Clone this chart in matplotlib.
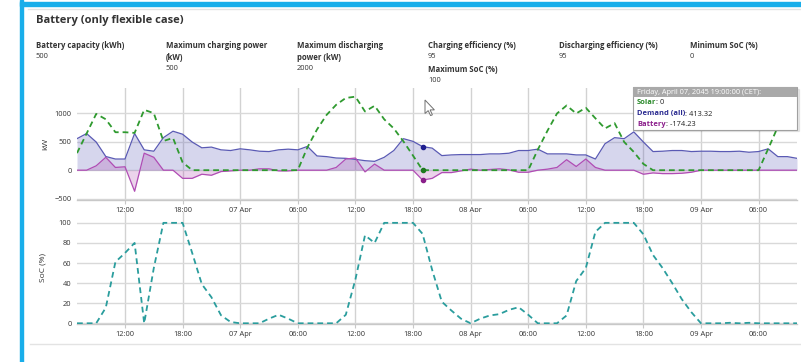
import matplotlib
matplotlib.use("Agg")
import matplotlib.pyplot as plt
import matplotlib.dates as mdates
import matplotlib.patches as mpatches
import numpy as np
import pandas as pd

# ---------------- data ----------------
times = pd.date_range("2045-04-06 07:00", "2045-04-09 10:00", freq="h")

solar = [300, 643, 988, 893, 666, 666, 654, 1059, 1000, 512, 565, 137,
         0, 0, 0, 0, 0, 0, 0, 0, 0, 0, 0, 0,
         400, 714, 970, 1148, 1267, 1290, 1030, 1130, 893, 732, 506, 256,
         0, 0, 0, 0, 0, 0, 0, 0, 0, 0, 0, 0,
         360, 690, 995, 1135, 995, 1095, 910, 732, 825, 494, 320, 110,
         0, 0, 0, 0, 0, 0, 0, 0, 0, 0, 0, 0,
         375, 760, 1100, 1380]

demand = [553, 643, 494, 240, 196, 196, 643, 357, 333, 571, 684, 631,
          494, 393, 405, 357, 345, 375, 357, 333, 327, 357, 369, 357,
          417, 250, 238, 214, 208, 190, 167, 155, 226, 345, 553, 506,
          413.32, 387, 256, 268, 274, 274, 274, 286, 286, 298, 345, 345,
          369, 286, 286, 286, 268, 268, 196, 464, 571, 553, 672, 494,
          327, 333, 345, 345, 327, 333, 333, 327, 327, 333, 315, 327,
          375, 238, 238, 208]

battery = [0, 0, 77, 226, 48, 60, -370, 298, 226, 0, 0, -143,
           -143, -71, -89, -24, -12, 0, 0, 24, 24, -12, -12, 0,
           0, 0, 0, 48, 196, 214, -30, 107, 0, 0, 0, 0,
           -174.23, -143, -42, -42, -12, 18, 0, 12, 24, 6, -36, -36,
           0, 18, 48, 184, 65, 196, 48, 0, 0, 0, 0, -71,
           -48, -60, -60, -54, -36, 0, 0, 0, 0, 0, 0, 0,
           0, 0, 0, 0]

soc = [0, 0, 0, 15.6, 61, 70, 80, 0, 55, 100, 100, 100,
       70, 39, 26, 8, 1.3, 0, 0, 0, 4.6, 8.5, 4.6, 0,
       0, 0, 0, 0, 8.5, 43.6, 87.6, 80, 100, 100, 100, 100,
       89, 53, 21.5, 12.7, 4.6, 0, 4.6, 7.8, 9.1, 13.4, 16, 8.5,
       0, 0, 0, 7.8, 42, 55, 91, 100, 100, 100, 100, 88.6,
       68, 55, 40, 24, 11, 0, 0, 0, 0.5, 0, 0.5, 0,
       0, 0, 0, 0]

params = [("Battery capacity (kWh)", "500"),
          ("Maximum charging power\n(kW)", "500"),
          ("Maximum discharging\npower (kW)", "2000"),
          ("Charging efficiency (%)", "95"),
          ("Discharging efficiency (%)", "95"),
          ("Minimum SoC (%)", "0")]
extra_param = ("Maximum SoC (%)", "100")

tooltip_title = "Friday, April 07, 2045 19:00:00 (CET):"
tooltip_rows = [("Solar", "0"), ("Demand (all)", "413.32"), ("Battery", "-174.23")]
hover_index = 36

# ---------------- style ----------------
W, H = 801, 362
plt.rcParams['font.family'] = ['Open Sans', 'DejaVu Sans']
C_SOLAR = '#2f9a2f'
C_DEMAND = '#5a5ab4'
C_BATT = '#b04cb4'
C_SOC = '#2a9d9d'
GRID = '#d9d9d9'
TXT = '#333333'

fig = plt.figure(figsize=(W / 100, H / 100), dpi=100)
fig.patch.set_facecolor('white')


def fx(x):
    return x / W


def fy(y):
    return 1 - y / H


def axes_px(l, t, r, b):
    return fig.add_axes([fx(l), fy(b), (r - l) / W, (b - t) / H])


# panel decorations
fig.patches.append(mpatches.Rectangle((fx(20), 0), 3 / W, 1, transform=fig.transFigure,
                                      color='#19aeea', zorder=0))
fig.patches.append(mpatches.Rectangle((fx(20), fy(6)), 1, 4 / H, transform=fig.transFigure,
                                      color='#19aeea', zorder=0))
fig.lines.append(plt.Line2D([fx(28), 1], [fy(8.5), fy(8.5)], transform=fig.transFigure,
                            color='#e3e3e3', lw=1))
fig.lines.append(plt.Line2D([fx(30), 1], [fy(343.5), fy(343.5)], transform=fig.transFigure,
                            color='#e3e3e3', lw=1))

fig.text(fx(36), fy(21), "Battery (only flexible case)", fontsize=8.0, fontweight='bold',
         color=TXT, va='center', ha='left')

cols = [36, 166, 297, 428, 559, 690]
for x, (lab, val) in zip(cols, params):
    lines = lab.split("\n")
    for i, ln in enumerate(lines):
        fig.text(fx(x), fy(45 + 12 * i), ln, fontsize=5.6, fontweight='bold', color=TXT,
                 va='center', ha='left')
    fig.text(fx(x), fy(45 + 12 * len(lines)), val, fontsize=5.4, color=TXT,
             va='center', ha='left')
fig.text(fx(428), fy(69), extra_param[0], fontsize=5.6, fontweight='bold', color=TXT,
         va='center', ha='left')
fig.text(fx(428), fy(81), extra_param[1], fontsize=5.4, color=TXT, va='center', ha='left')


def fmt_time(x, pos=None):
    d = mdates.num2date(x)
    if d.hour == 0:
        return d.strftime('%d %b')
    return d.strftime('%H:%M')


def style_axes(ax):
    for s in ['top', 'right', 'left']:
        ax.spines[s].set_visible(False)
    ax.spines['bottom'].set_color('#c8c8c8')
    ax.spines['bottom'].set_linewidth(1)
    ax.xaxis.set_major_locator(mdates.HourLocator(byhour=[0, 6, 12, 18]))
    ax.xaxis.set_major_formatter(plt.FuncFormatter(fmt_time))
    ax.set_xlim(times[0], times[-1])
    ax.grid(axis='y', color=GRID, lw=1)
    ax.grid(axis='x', color='#d2d2d2', lw=1)
    ax.set_axisbelow(True)
    ax.tick_params(axis='x', length=3, color='#c8c8c8', labelsize=5.4, labelcolor=TXT, pad=2)
    ax.tick_params(axis='y', length=0, labelsize=5.4, labelcolor=TXT, pad=4)


# ---------------- top chart ----------------
ax1 = axes_px(77, 88, 797, 200)
style_axes(ax1)
ax1.set_ylim(-523, 1442)
ax1.set_yticks([-500, 0, 500, 1000])
ax1.fill_between(times, 0, demand, color='#5c5cb8', alpha=0.25, lw=0, zorder=2)
ax1.plot(times, demand, color=C_DEMAND, lw=0.9, zorder=4)
ax1.fill_between(times, 0, battery, color='#a83aa8', alpha=0.22, lw=0, zorder=3)
ax1.plot(times, battery, color=C_BATT, lw=0.9, zorder=4)
ax1.plot(times, solar, color=C_SOLAR, lw=1.3, ls=(0, (3.2, 2.2)), zorder=5)
ax1.set_ylabel("kW", fontsize=6, color=TXT, labelpad=3.5)
ht = times[hover_index]
ax1.plot([ht], [demand[hover_index]], 'o', color='#1f1f8f', ms=3, zorder=6)
ax1.plot([ht], [solar[hover_index]], 'o', color='#1e7a1e', ms=3, zorder=6)
ax1.plot([ht], [battery[hover_index]], 'o', color='#8a1f8a', ms=3, zorder=6)

# ---------------- bottom chart ----------------
ax2 = axes_px(77, 212, 797, 324)
style_axes(ax2)
ax2.set_ylim(-0.7, 110.8)
ax2.set_yticks([0, 20, 40, 60, 80, 100])
ax2.plot(times, soc, color=C_SOC, lw=1.3, ls=(0, (3.2, 2.2)), zorder=5)
ax2.set_ylabel("SoC (%)", fontsize=6, color=TXT, labelpad=9)

# ---------------- tooltip ----------------
tl, tt, tr, tb = 633, 87, 797, 129.5
fig.patches.append(mpatches.Rectangle((fx(tl + 1.5), fy(tb + 1.5)), (tr - tl) / W, (tb - tt) / H,
                                      transform=fig.transFigure, color='#000000', alpha=0.08,
                                      zorder=9))
fig.patches.append(mpatches.Rectangle((fx(tl), fy(tb)), (tr - tl) / W, (tb - tt) / H,
                                      transform=fig.transFigure, facecolor='white',
                                      edgecolor='#a0a0a0', lw=0.8, zorder=10))
fig.patches.append(mpatches.Rectangle((fx(tl), fy(96.5)), (tr - tl) / W, 9.5 / H,
                                      transform=fig.transFigure, facecolor='#a9a9a9',
                                      edgecolor='none', zorder=11))
fig.text(fx(637), fy(92), tooltip_title, fontsize=5.3, color='white', va='center',
         ha='left', zorder=12)
row_colors = ['#2a8a2a', '#2a2a90', '#8c1f8c']
renderer = fig.canvas.get_renderer()
for i, ((lab, val), c) in enumerate(zip(tooltip_rows, row_colors)):
    yy = fy(103 + 11 * i)
    t1 = fig.text(fx(637), yy, lab, fontsize=5.4, fontweight='bold', color=c, va='center',
                  ha='left', zorder=12)
    bb = t1.get_window_extent(renderer)
    fig.text(bb.x1 / fig.dpi / fig.get_figwidth(), yy, ": " + val, fontsize=5.4,
             color='#222222', va='center', ha='left', zorder=12)

# ---------------- mouse cursor ----------------
cur = np.array([(0, 0), (0, 13.5), (3.2, 10.6), (5.6, 15.6), (7.4, 14.8), (5.1, 9.9), (9.4, 9.9)])
cur_fig = [(fx(425 + px_), fy(100 + py_)) for px_, py_ in cur]
fig.patches.append(mpatches.Polygon(cur_fig, closed=True, transform=fig.transFigure,
                                    facecolor='white', edgecolor='#707070', lw=0.7, zorder=13))

fig.savefig("out.png", dpi=100)
